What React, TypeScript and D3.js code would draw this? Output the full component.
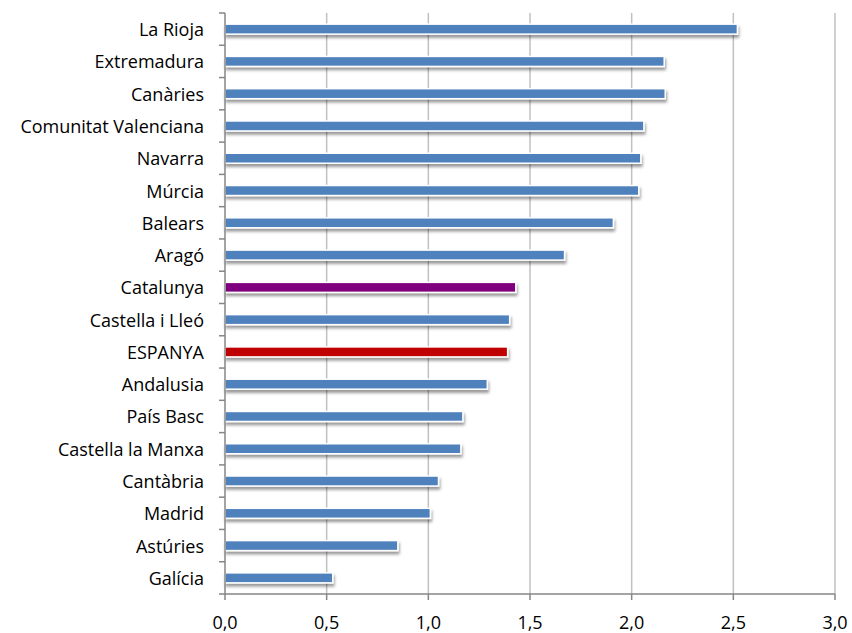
import React from 'react';
import * as d3 from 'd3';

const categories = [
  'La Rioja', 'Extremadura', 'Canàries', 'Comunitat Valenciana', 'Navarra', 'Múrcia',
  'Balears', 'Aragó', 'Catalunya', 'Castella i Lleó', 'ESPANYA', 'Andalusia',
  'País Basc', 'Castella la Manxa', 'Cantàbria', 'Madrid', 'Astúries', 'Galícia',
];
const values = [
  2.52, 2.16, 2.165, 2.06, 2.045, 2.035,
  1.91, 1.67, 1.43, 1.40, 1.39, 1.29,
  1.17, 1.16, 1.05, 1.01, 0.85, 0.53,
];
const xTicks = [0, 0.5, 1, 1.5, 2, 2.5, 3];

const barColor = (name: string) =>
  name === 'Catalunya' ? '#7f007f' : name === 'ESPANYA' ? '#c00000' : '#4f81bd';

const App: React.FC = () => {
  const width = 852;
  const height = 633;
  const left = 225;
  const right = 835;
  const top = 13;
  const bottom = 594;

  const x = d3.scaleLinear().domain([0, 3]).range([left, right]);
  const y = d3.scaleBand().domain(categories).range([top, bottom]);
  const barH = 10;
  const fmt = (d: number) => d.toFixed(1).replace('.', ',');
  const font = '"Open Sans", sans-serif';

  return (
    <svg width={width} height={height} style={{ position: 'absolute', left: 0, top: 0 }}>
      <defs>
        <filter id="shadow" x="-5%" y="-100%" width="110%" height="400%">
          <feDropShadow dx="1" dy="3" stdDeviation="1.5" floodColor="#000" floodOpacity="0.4" />
        </filter>
      </defs>
      <rect width={width} height={height} fill="#fff" />

      {/* gridlines */}
      {xTicks.slice(1).map(t => (
        <line key={t} x1={x(t)} x2={x(t)} y1={top} y2={bottom} stroke="#c0c0c0" strokeWidth={1.5} />
      ))}

      {/* bars */}
      {categories.map((c, i) => (
        <rect
          key={c}
          x={x(0)}
          y={(y(c) as number) + y.bandwidth() / 2 - barH / 2}
          width={x(values[i]) - x(0)}
          height={barH}
          fill={barColor(c)}
          stroke="#fff"
          strokeWidth={1.5}
          filter="url(#shadow)"
        />
      ))}

      {/* axes */}
      <line x1={left} x2={left} y1={top} y2={bottom} stroke="#868686" strokeWidth={1.5} />
      <line x1={left} x2={right} y1={bottom} y2={bottom} stroke="#868686" strokeWidth={1.5} />
      {categories.concat(['']).map((c, i) => {
        const yy = top + i * y.step();
        return <line key={'yt' + i} x1={left - 6} x2={left} y1={yy} y2={yy} stroke="#868686" strokeWidth={1.5} />;
      })}
      {xTicks.map(t => (
        <g key={'xt' + t}>
          <line x1={x(t)} x2={x(t)} y1={bottom} y2={bottom + 6} stroke="#868686" strokeWidth={1.5} />
          <text x={x(t)} y={bottom + 35} textAnchor="middle"
            fontFamily={font} fontSize={18} fill="#000">{fmt(t)}</text>
        </g>
      ))}

      {/* category labels */}
      {categories.map(c => (
        <text key={'l' + c} x={left - 21} y={(y(c) as number) + y.bandwidth() / 2 + 7}
          textAnchor="end" fontFamily={font} fontSize={18} fill="#000">
          {c}
        </text>
      ))}
    </svg>
  );
};

export default App;
